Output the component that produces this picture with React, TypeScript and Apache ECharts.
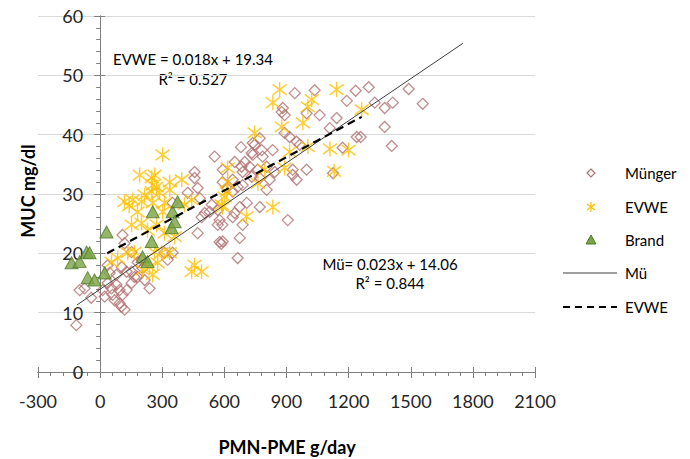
import React, { useEffect, useRef } from 'react';
import * as echarts from 'echarts';

// ---------- data ----------
const X_MIN = -300;
const X_MAX = 2100;
const X_STEP = 300;
const Y_MIN = 0;
const Y_MAX = 60;
const Y_STEP = 10;

const mungerPoints: [number, number][] = [
  [-115, 7.9], [-99, 13.8], [-75, 14.1], [-43, 12.5], [12, 13.8], [22, 12.7], [36, 15.0], [55, 14.1],
  [60, 13.0], [70, 12.1], [94, 11.6], [103, 11.0], [118, 10.5], [79, 14.7], [94, 13.8], [108, 13.0],
  [128, 13.8], [152, 15.0], [166, 16.0], [152, 16.9], [128, 16.9], [104, 17.7], [79, 16.4], [46, 16.7],
  [36, 18.0], [108, 23.1], [118, 21.7], [152, 20.2], [181, 18.5], [205, 17.5], [181, 16.0], [239, 14.1],
  [215, 15.5], [326, 18.9], [350, 20.1], [311, 20.1], [200, 18.9], [471, 23.4], [490, 26.1], [350, 28.5],
  [553, 36.3], [456, 33.7], [456, 32.7], [680, 37.9], [650, 35.4], [683, 34.6], [423, 30.2], [471, 31.0],
  [640, 32.4], [664, 31.2], [539, 28.2], [568, 27.3], [505, 26.8], [650, 26.8],
  [737, 38.6], [771, 39.4], [732, 36.9], [746, 38.3], [780, 37.4], [877, 43.8], [891, 43.3], [997, 43.6],
  [1060, 43.3], [891, 40.3], [915, 39.6], [949, 38.8], [964, 38.3], [833, 37.4], [737, 36.6], [785, 36.3],
  [698, 35.4], [722, 34.6], [761, 34.1], [804, 34.6], [843, 33.7], [688, 33.7], [732, 32.9], [771, 32.7],
  [819, 32.4], [930, 33.2], [997, 34.1], [949, 32.4], [592, 34.1], [592, 32.0], [611, 31.0], [640, 30.4],
  [688, 31.5], [804, 30.7], [481, 29.3], [529, 27.0], [577, 25.6], [640, 26.1], [674, 27.8], [708, 28.5],
  [771, 27.8], [906, 25.6], [568, 24.8], [590, 24.8], [577, 21.9], [585, 21.6], [592, 22.0], [674, 22.6],
  [664, 19.2], [688, 24.8],
  [940, 47.0], [1036, 47.5], [882, 44.5], [1142, 42.8], [1109, 41.1], [930, 34.1], [1125, 33.5],
  [1234, 47.4], [1297, 48.0], [1191, 45.7], [1326, 45.4], [1374, 44.5], [1413, 45.4], [1490, 47.7],
  [1558, 45.2], [1374, 41.3], [1239, 39.6], [1258, 39.6], [1408, 38.1], [1171, 37.8],
];

const evwePoints: [number, number][] = [
  [302, 36.6], [191, 33.2], [249, 32.7], [263, 33.2], [254, 31.5], [273, 31.2], [336, 32.0], [394, 32.4],
  [118, 28.7], [157, 29.0], [200, 28.7], [215, 29.8], [249, 30.4], [287, 30.2], [311, 28.5], [336, 30.7],
  [616, 34.4], [616, 32.0], [611, 30.4], [587, 28.2], [408, 28.2], [442, 29.0], [181, 27.0], [302, 27.0],
  [140, 28.0], [254, 28.5], [152, 24.8], [200, 25.1], [229, 23.9], [273, 24.8], [311, 23.4], [360, 22.8],
  [166, 20.2], [133, 20.1], [85, 19.2], [263, 20.2], [297, 20.1], [336, 20.1], [278, 18.4], [239, 17.7],
  [205, 17.2], [254, 16.4], [456, 18.0], [442, 16.9], [490, 16.9], [55, 18.5],
  [867, 47.6], [834, 45.4], [1003, 44.7], [1022, 45.9], [979, 42.0], [1142, 47.6], [877, 41.3], [746, 40.3],
  [915, 37.1], [1003, 38.0], [1110, 37.6], [1200, 37.4], [1130, 33.8], [834, 27.8], [707, 26.2], [762, 31.8],
  [795, 34.1], [891, 34.4], [601, 29.5], [592, 27.8], [1263, 44.2],
];

const brandPoints: [number, number][] = [
  [-138, 18.4], [-99, 18.6], [-65, 20.2], [-51, 20.1], [31, 23.6], [-60, 15.9], [-27, 15.5], [22, 16.7],
  [205, 19.4], [229, 18.6], [249, 22.0], [254, 27.0], [350, 27.0], [345, 24.3], [360, 25.3], [374, 28.7],
];

// trend line end points
const muTrend: [number, number][] = [[-112, 11.3], [1752, 55.4]];
const evweTrend: [number, number][] = [[34, 20.0], [1263, 43.0]];

const legendLabels = ['Münger', 'EVWE', 'Brand', 'Mü', 'EVWE'];
const evweEquation = ['EVWE = 0.018x + 19.34', 'R² = 0.527'];
const muEquation = ['Mü= 0.023x + 14.06', 'R² = 0.844'];
const xTitle = 'PMN-PME g/day';
const yTitle = 'MUC mg/dl';

// ---------- styles ----------
const FONT = 'Lato, "Liberation Sans", sans-serif';
const AXIS_COLOR = '#7F7F7F';
const DIAMOND_COLOR = '#B07070';
const STAR_COLOR = '#FFC000';
const TRI_FILL = '#7AA345';
const TRI_STROKE = '#4E7A26';
const ASTERISK = 'path://M5,0L5,10M0,1.5L10,8.5M0,8.5L10,1.5';

const GRID_LEFT = 38;
const GRID_RIGHT = 155;
const GRID_TOP = 16;
const GRID_BOTTOM = 87;
const PLOT_W = 690 - GRID_LEFT - GRID_RIGHT;
// y axis sits at x = 0 of the x scale
const Y_AXIS_OFFSET = -((0 - X_MIN) / (X_MAX - X_MIN)) * PLOT_W;

function buildOption() {
  const axisLineStyle = { color: AXIS_COLOR, width: 1 };
  const legendX = 591;
  const legendText = 625;
  const legendY = [173, 207, 240, 273, 307];
  const fmt = (v: number) => String(v);
  const textStyle = (t: string, x: number, y: number, extra: any = {}) => ({
    type: 'text',
    x,
    y,
    silent: true,
    style: {
      text: t,
      fontFamily: FONT,
      fontSize: 15,
      fill: '#000',
      align: 'left',
      verticalAlign: 'middle',
      ...extra,
    },
  });

  return {
    animation: false,
    grid: { left: GRID_LEFT, right: GRID_RIGHT, top: GRID_TOP, bottom: GRID_BOTTOM, containLabel: false },
    xAxis: [
      {
        type: 'value',
        min: X_MIN,
        max: X_MAX,
        interval: X_STEP,
        position: 'bottom',
        axisLine: { show: true, onZero: false, lineStyle: axisLineStyle },
        axisTick: { show: true, inside: false, length: 6, lineStyle: axisLineStyle },
        minorTick: { show: true, splitNumber: 5, length: 4, lineStyle: axisLineStyle },
        axisLabel: { color: '#262626', fontSize: 18, fontFamily: FONT, margin: 20, formatter: fmt },
        splitLine: { show: false },
        minorSplitLine: { show: false },
      },
      {
        type: 'value',
        min: X_MIN,
        max: X_MAX,
        interval: X_STEP,
        position: 'bottom',
        axisLine: { show: true, onZero: false, lineStyle: axisLineStyle },
        axisTick: { show: true, inside: true, length: 5, lineStyle: axisLineStyle },
        axisLabel: { show: false },
        splitLine: { show: false },
      },
    ],
    yAxis: [
      {
        type: 'value',
        min: Y_MIN,
        max: Y_MAX,
        interval: Y_STEP,
        position: 'left',
        offset: Y_AXIS_OFFSET,
        axisLine: { show: true, onZero: false, lineStyle: axisLineStyle },
        axisTick: { show: true, inside: false, length: 6, lineStyle: axisLineStyle },
        minorTick: { show: true, splitNumber: 5, length: 4, lineStyle: axisLineStyle },
        axisLabel: { color: '#262626', fontSize: 18, fontFamily: FONT, margin: 17, formatter: fmt },
        splitLine: { show: true, lineStyle: { color: '#D9D9D9', width: 1 } },
        minorSplitLine: { show: false },
      },
      {
        type: 'value',
        min: Y_MIN,
        max: Y_MAX,
        interval: Y_STEP,
        position: 'left',
        offset: Y_AXIS_OFFSET,
        axisLine: { show: true, onZero: false, lineStyle: axisLineStyle },
        axisTick: { show: true, inside: true, length: 5, lineStyle: axisLineStyle },
        axisLabel: { show: false },
        splitLine: { show: false },
      },
    ],
    series: [
      {
        type: 'scatter',
        name: 'Münger',
        data: mungerPoints,
        symbol: 'diamond',
        symbolSize: 11,
        itemStyle: { color: 'rgba(0,0,0,0)', borderColor: DIAMOND_COLOR, borderWidth: 1.3 },
        z: 2,
      },
      {
        type: 'scatter',
        name: 'EVWE',
        data: evwePoints,
        symbol: ASTERISK,
        symbolSize: [14, 15],
        itemStyle: { color: 'rgba(0,0,0,0)', borderColor: STAR_COLOR, borderWidth: 1.5 },
        z: 3,
      },
      {
        type: 'scatter',
        name: 'Brand',
        data: brandPoints,
        symbol: 'triangle',
        symbolSize: [13, 12],
        itemStyle: { color: TRI_FILL, borderColor: TRI_STROKE, borderWidth: 1 },
        z: 4,
      },
      {
        type: 'line',
        name: 'Mü',
        data: muTrend,
        symbol: 'none',
        lineStyle: { color: '#404040', width: 1 },
        z: 5,
      },
      {
        type: 'line',
        name: 'EVWE trend',
        data: evweTrend,
        symbol: 'none',
        lineStyle: { color: '#000', width: 2.2, type: [8, 5] },
        z: 5,
      },
    ],
    graphic: [
      // axis titles
      {
        type: 'text',
        x: 287,
        y: 447,
        silent: true,
        style: {
          text: xTitle,
          fontFamily: FONT,
          fontSize: 18,
          fontWeight: 'bold',
          fill: '#000',
          align: 'center',
          verticalAlign: 'middle',
        },
      },
      {
        type: 'text',
        x: 28,
        y: 191,
        rotation: Math.PI / 2,
        silent: true,
        style: {
          text: yTitle,
          fontFamily: FONT,
          fontSize: 18,
          fontWeight: 'bold',
          fill: '#000',
          align: 'center',
          verticalAlign: 'middle',
        },
      },
      // equations
      textStyle(evweEquation[0], 193, 59, { align: 'center' }),
      textStyle(evweEquation[1], 193, 79, { align: 'center' }),
      textStyle(muEquation[0], 390, 264, { align: 'center' }),
      textStyle(muEquation[1], 390, 283, { align: 'center' }),
      // legend icons
      {
        type: 'polygon',
        silent: true,
        shape: {
          points: [
            [legendX, legendY[0] - 4],
            [legendX + 4, legendY[0]],
            [legendX, legendY[0] + 4],
            [legendX - 4, legendY[0]],
          ],
        },
        style: { fill: 'none', stroke: DIAMOND_COLOR, lineWidth: 1.2 },
      },
      {
        type: 'group',
        silent: true,
        children: [
          { type: 'line', shape: { x1: legendX, y1: legendY[1] - 5, x2: legendX, y2: legendY[1] + 5 }, style: { stroke: STAR_COLOR, lineWidth: 1.3 } },
          { type: 'line', shape: { x1: legendX - 4, y1: legendY[1] - 3, x2: legendX + 4, y2: legendY[1] + 3 }, style: { stroke: STAR_COLOR, lineWidth: 1.3 } },
          { type: 'line', shape: { x1: legendX - 4, y1: legendY[1] + 3, x2: legendX + 4, y2: legendY[1] - 3 }, style: { stroke: STAR_COLOR, lineWidth: 1.3 } },
        ],
      },
      {
        type: 'polygon',
        silent: true,
        shape: {
          points: [
            [legendX, legendY[2] - 5],
            [legendX + 5, legendY[2] + 4],
            [legendX - 5, legendY[2] + 4],
          ],
        },
        style: { fill: TRI_FILL, stroke: TRI_STROKE, lineWidth: 1 },
      },
      {
        type: 'line',
        silent: true,
        shape: { x1: 563, y1: legendY[3], x2: 617, y2: legendY[3] },
        style: { stroke: '#404040', lineWidth: 1.2 },
      },
      {
        type: 'line',
        silent: true,
        shape: { x1: 563, y1: legendY[4], x2: 617, y2: legendY[4] },
        style: { stroke: '#000', lineWidth: 2, lineDash: [7, 5] },
      },
      ...legendLabels.map((l, i) => textStyle(l, legendText, legendY[i])),
    ],
  };
}

export default function App() {
  const ref = useRef<HTMLDivElement>(null);
  useEffect(() => {
    document.body.style.margin = '0';
    const chart = echarts.init(ref.current as HTMLDivElement, undefined, { renderer: 'svg' });
    chart.setOption(buildOption() as any);
    return () => chart.dispose();
  }, []);
  return <div ref={ref} style={{ width: 690, height: 459 }} />;
}
